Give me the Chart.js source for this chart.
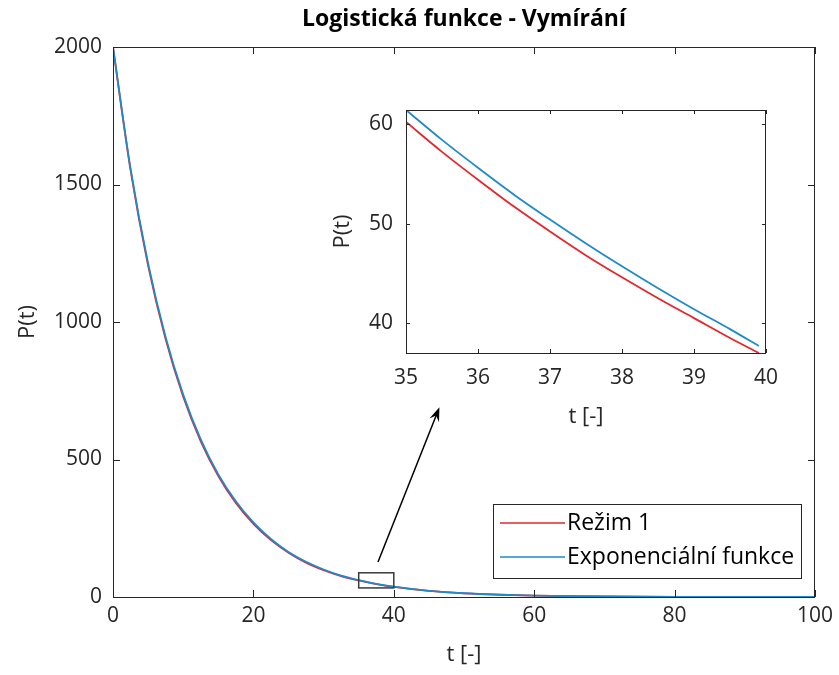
<!DOCTYPE html>
<html>
<head>
<meta charset="utf-8">
<script src="https://cdn.jsdelivr.net/npm/chart.js@4/dist/chart.umd.min.js"></script>
<style>
  html, body { margin: 0; padding: 0; background: #fff; }
  #wrap { position: relative; width: 839px; height: 675px; }
  #hlavni { position: absolute; left: 0; top: 0; }
  #detail { position: absolute; left: 330px; top: 80px; }
</style>
</head>
<body>
<div id="wrap">
  <canvas id="hlavni" width="839" height="675"></canvas>
  <canvas id="detail" width="460" height="350"></canvas>
</div>
<script>
// hlavni graf
const casy = [0, 2.5, 5, 7.5, 10, 12.5, 15, 17.5, 20, 22.5, 25, 27.5, 30, 32.5, 35, 37.5, 40, 45, 50, 55, 60, 65, 70, 75, 80, 85, 90, 95, 100];
const rezim1 = [2000, 1552, 1205, 937, 728, 566, 440, 342, 266, 207, 161, 125, 98, 76.2, 60.2, 46.9, 36.8, 22.2, 13.4, 8.1, 4.9, 3.0, 1.8, 1.1, 0.65, 0.4, 0.24, 0.15, 0.09];
const exponencialni = [2000, 1558, 1213, 945, 736, 573, 446, 348, 271, 211, 164, 128, 100, 77.6, 61.4, 47.9, 37.4, 22.6, 13.7, 8.3, 5.0, 3.0, 1.8, 1.1, 0.7, 0.4, 0.25, 0.15, 0.09];
const ticksX = [0, 20, 40, 60, 80, 100];
const ticksY = [0, 500, 1000, 1500, 2000];

// detail (vyrez 35 - 40)
const casyDetail = [35, 35.5, 36, 36.5, 37, 37.5, 38, 38.5, 39, 39.5, 39.9];
const rezim1Detail = [60.2, 57.2, 54.4, 51.7, 49.2, 46.8, 44.6, 42.5, 40.5, 38.5, 37.0];
const expDetail = [61.4, 58.4, 55.6, 52.9, 50.4, 48.0, 45.7, 43.5, 41.4, 39.4, 37.7];
const ticksXDetail = [35, 36, 37, 38, 39, 40];
const ticksYDetail = [40, 50, 60];

// obdelnik vyrezu a sipka (v souradnicich grafu)
const vyrezT = [35, 40];
const vyrezP = [33, 88];
const sipkaOd = [37.75, 127];
const sipkaDo = [46.5, 690];

const CERVENA = '#e0282e';
const MODRA = '#1f8ac9';
const OSA = '#262626';
const FONT = "'Open Sans', sans-serif";

function body(xs, ys) {
  return xs.map((x, i) => ({ x: x, y: ys[i] }));
}

// ramecek kolem grafu + ticky dovnitr (jako v Matlabu)
function ramecekPlugin(delka) {
  return {
    id: 'ramecek',
    afterDatasetsDraw(chart) {
      const { ctx, chartArea: a, scales } = chart;
      ctx.save();
      ctx.strokeStyle = OSA;
      ctx.lineWidth = 1;
      ctx.strokeRect(a.left + 0.5, a.top + 0.5, a.right - a.left - 1, a.bottom - a.top);
      ctx.beginPath();
      scales.x.ticks.forEach(t => {
        const px = Math.round(scales.x.getPixelForValue(t.value)) + 0.5;
        ctx.moveTo(px, a.bottom); ctx.lineTo(px, a.bottom - delka);
        ctx.moveTo(px, a.top); ctx.lineTo(px, a.top + delka);
      });
      scales.y.ticks.forEach(t => {
        const py = Math.round(scales.y.getPixelForValue(t.value)) + 0.5;
        ctx.moveTo(a.left, py); ctx.lineTo(a.left + delka, py);
        ctx.moveTo(a.right, py); ctx.lineTo(a.right - delka, py);
      });
      ctx.stroke();
      ctx.restore();
    }
  };
}

const popisekPlugin = {
  id: 'popisky',
  afterDraw(chart) {
    const { ctx, chartArea: a, scales } = chart;
    const sx = scales.x, sy = scales.y;
    ctx.save();

    // titulek
    ctx.fillStyle = '#000';
    ctx.font = 'bold 23px ' + FONT;
    ctx.textAlign = 'center';
    ctx.textBaseline = 'middle';
    ctx.fillText('Logistická funkce - Vymírání', (a.left + a.right) / 2, 19);

    // obdelnik vyrezu
    const x1 = sx.getPixelForValue(vyrezT[0]), x2 = sx.getPixelForValue(vyrezT[1]);
    const y1 = sy.getPixelForValue(vyrezP[1]), y2 = sy.getPixelForValue(vyrezP[0]);
    ctx.strokeStyle = '#3a3a3a';
    ctx.lineWidth = 1.5;
    ctx.strokeRect(x1, y1, x2 - x1, y2 - y1);

    // sipka
    const ax = sx.getPixelForValue(sipkaOd[0]), ay = sy.getPixelForValue(sipkaOd[1]);
    const bx = sx.getPixelForValue(sipkaDo[0]), by = sy.getPixelForValue(sipkaDo[1]);
    const uhel = Math.atan2(by - ay, bx - ax);
    const hl = 15;
    ctx.strokeStyle = '#000';
    ctx.lineWidth = 1.5;
    ctx.beginPath();
    ctx.moveTo(ax, ay);
    ctx.lineTo(bx - Math.cos(uhel) * 8, by - Math.sin(uhel) * 8);
    ctx.stroke();
    ctx.fillStyle = '#000';
    ctx.beginPath();
    ctx.moveTo(bx, by);
    ctx.lineTo(bx - hl * Math.cos(uhel - 0.35), by - hl * Math.sin(uhel - 0.35));
    ctx.lineTo(bx - hl * 0.6 * Math.cos(uhel), by - hl * 0.6 * Math.sin(uhel));
    ctx.lineTo(bx - hl * Math.cos(uhel + 0.35), by - hl * Math.sin(uhel + 0.35));
    ctx.closePath();
    ctx.fill();

    // legenda
    const lx = 493, ly = 504, lw = 308, lh = 74;
    ctx.fillStyle = '#fff';
    ctx.fillRect(lx, ly, lw, lh);
    ctx.strokeStyle = OSA;
    ctx.lineWidth = 1;
    ctx.strokeRect(lx + 0.5, ly + 0.5, lw, lh);
    ctx.font = '23px ' + FONT;
    ctx.textAlign = 'left';
    ctx.textBaseline = 'middle';
    chart.data.datasets.forEach((ds, i) => {
      const yy = ly + 19 + i * 34;
      ctx.strokeStyle = ds.borderColor;
      ctx.lineWidth = 1.5;
      ctx.beginPath();
      ctx.moveTo(lx + 7, yy);
      ctx.lineTo(lx + 72, yy);
      ctx.stroke();
      ctx.fillStyle = '#000';
      ctx.fillText(ds.label, lx + 74, yy);
    });
    ctx.restore();
  }
};

function osy(opt) {
  return {
    x: {
      type: 'linear', min: opt.xmin, max: opt.xmax,
      grid: { display: false, drawTicks: false },
      border: { display: false },
      afterBuildTicks: s => { s.ticks = opt.tx.map(v => ({ value: v })); },
      afterFit: s => { s.height = opt.xh; },
      ticks: { color: OSA, font: { family: FONT, size: 21 }, padding: opt.xpad, maxRotation: 0, callback: v => String(v) },
      title: { display: true, text: 't [-]', color: OSA, font: { family: FONT, size: 22 }, padding: { top: 0, bottom: opt.xtpad } }
    },
    y: {
      type: 'linear', min: opt.ymin, max: opt.ymax,
      grid: { display: false, drawTicks: false },
      border: { display: false },
      afterBuildTicks: s => { s.ticks = opt.ty.map(v => ({ value: v })); },
      afterFit: s => { s.width = opt.yw; },
      ticks: { color: OSA, font: { family: FONT, size: 21 }, padding: opt.ypad, callback: v => String(v) },
      title: { display: true, text: 'P(t)', color: OSA, font: { family: FONT, size: 22 }, padding: { top: opt.ytpad, bottom: 0 } }
    }
  };
}

function sada(label, xs, ys, barva, poradi) {
  return {
    label: label,
    data: body(xs, ys),
    borderColor: barva,
    backgroundColor: barva,
    borderWidth: 1.8,
    pointRadius: 0,
    fill: false,
    order: poradi,
    cubicInterpolationMode: 'monotone'
  };
}

new Chart(document.getElementById('hlavni'), {
  type: 'line',
  data: {
    datasets: [
      sada('Režim 1', casy, rezim1, CERVENA, 1),
      sada('Exponenciální funkce', casy, exponencialni, MODRA, 0)
    ]
  },
  options: {
    responsive: false,
    animation: false,
    layout: { padding: { left: 0, right: 24, top: 47, bottom: 0 } },
    plugins: { legend: { display: false }, tooltip: { enabled: false }, title: { display: false } },
    scales: osy({ xmin: 0, xmax: 100, ymin: 0, ymax: 2000, tx: ticksX, ty: ticksY,
                  xh: 78, yw: 113, xpad: 6, ypad: 11, xtpad: 7, ytpad: 15 })
  },
  plugins: [ramecekPlugin(7), popisekPlugin]
});

new Chart(document.getElementById('detail'), {
  type: 'line',
  data: {
    datasets: [
      sada('Režim 1', casyDetail, rezim1Detail, CERVENA, 1),
      sada('Exponenciální funkce', casyDetail, expDetail, MODRA, 0)
    ]
  },
  options: {
    responsive: false,
    animation: false,
    layout: { padding: { left: 0, right: 22, top: 30, bottom: 0 } },
    plugins: { legend: { display: false }, tooltip: { enabled: false }, title: { display: false } },
    scales: osy({ xmin: 35, xmax: 40, ymin: 37, ymax: 61.4, tx: ticksXDetail, ty: ticksYDetail,
                  xh: 77, yw: 76, xpad: 12, ypad: 13, xtpad: 0, ytpad: 0 })
  },
  plugins: [ramecekPlugin(4)]
});
</script>
</body>
</html>
